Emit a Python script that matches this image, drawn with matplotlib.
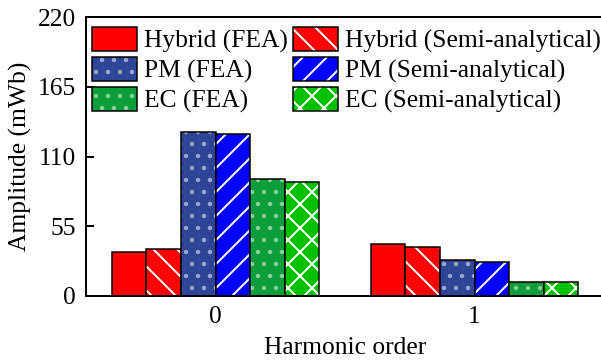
import numpy as np
import matplotlib
matplotlib.use('Agg')
import matplotlib.pyplot as plt

plt.rcParams['font.family'] = 'Liberation Serif'
plt.rcParams['font.size'] = 25.5
plt.rcParams['hatch.linewidth'] = 2.0

# data
orders = ['0', '1']
series = ['Hybrid (FEA)', 'Hybrid (Semi-analytical)', 'PM (FEA)',
          'PM (Semi-analytical)', 'EC (FEA)', 'EC (Semi-analytical)']
hybrid_fea = [35.0, 41.1]
hybrid_semi = [37.2, 39.0]
pm_fea = [129.5, 28.5]
pm_semi = [127.4, 26.9]
ec_fea = [92.3, 11.1]
ec_semi = [89.7, 11.1]
values = [hybrid_fea, hybrid_semi, pm_fea, pm_semi, ec_fea, ec_semi]

# styles
faces = ['#ff0000', '#ff0000', '#2e4496', '#0000ff', '#0c9e3a', '#00c000']
hatches = [None, '\\', '.', '/', '.', 'x']
hatch_cols = ['#ff0000', 'white', '#9aa5d2', 'white', '#86cf96', 'white']

fig = plt.figure(figsize=(601 / 72, 360 / 72), dpi=72)
ax = fig.add_axes([86 / 601, 64 / 360, 518 / 601, 279 / 360])

x = np.arange(len(orders))
w = 0.8 / len(series)
handles = []
for i, (vals, fc, h, hc) in enumerate(zip(values, faces, hatches, hatch_cols)):
    pos = x + (i - 2.5) * w
    b1 = ax.bar(pos, vals, w, color=fc, hatch=h, edgecolor=hc, linewidth=0)
    b2 = ax.bar(pos, vals, w, fill=False, edgecolor='black', linewidth=1.5)
    handles.append((b1[0], b2[0]))

ax.set_xlim(-0.5, 1.5)
ax.set_ylim(0, 220)
ax.set_yticks([0, 55, 110, 165, 220])
ax.set_xticks(x)
ax.set_xticklabels(orders)
ax.tick_params(axis='y', direction='in', length=8, width=2, pad=10)
ax.tick_params(axis='x', length=0, pad=10)
for s in ax.spines.values():
    s.set_linewidth(2)

ax.set_xlabel('Harmonic order', labelpad=9)
ax.set_ylabel('Amplitude (mWb)', labelpad=6)

# legend is filled column by column, so reorder to read row-wise
order = [0, 2, 4, 1, 3, 5]
ax.legend([handles[k] for k in order], [series[k] for k in order], ncol=2,
          loc='upper left', frameon=False,
          bbox_to_anchor=(6 / 518, 1 - 10 / 279),
          borderaxespad=0, borderpad=0,
          handlelength=1.75, handleheight=1.06, handletextpad=0.28,
          columnspacing=0.22, labelspacing=0.15)

fig.savefig('out.png', dpi=72)
